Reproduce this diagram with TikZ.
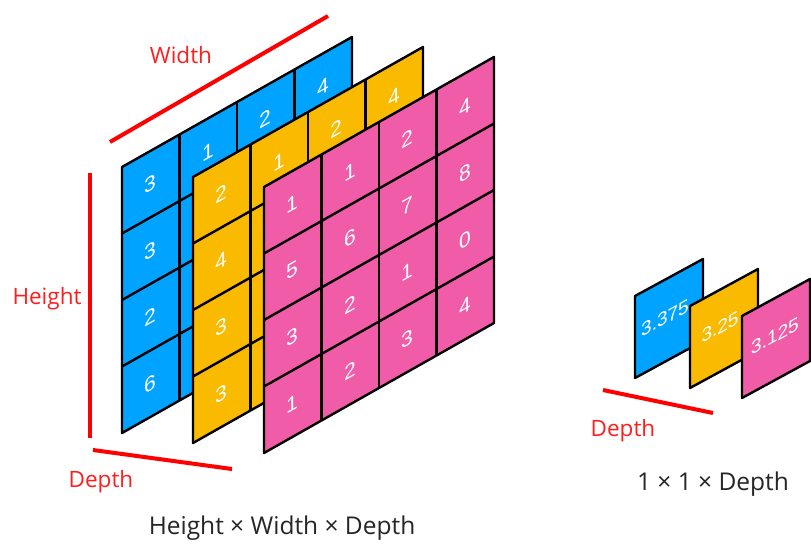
\documentclass[tikz,border=0pt]{standalone}
\usepackage{fontspec}
\setmainfont{Open Sans}
\newfontfamily\digitfont{Liberation Sans}
\definecolor{cblue}{RGB}{0,163,255}
\definecolor{cyellow}{RGB}{250,186,0}
\definecolor{cpink}{RGB}{240,92,168}
\definecolor{cred}{RGB}{255,0,0}
\definecolor{ctext}{RGB}{255,30,30}
\tikzset{
  gridline/.style={draw=black, line width=2.4pt, line join=round},
  redline/.style={draw=cred, line width=4pt},
  dig/.style={text=white, font=\digitfont\fontsize{21}{21}\selectfont, yslant=0.565, inner sep=0pt},
  sdig/.style={text=white, font=\digitfont\fontsize{19}{19}\selectfont, yslant=0.56, inner sep=0pt},
  redlabel/.style={text=ctext, font=\fontsize{22.5}{22.5}\selectfont, inner sep=0pt},
  blacklabel/.style={text=black!85, font=\fontsize{24.5}{24.5}\selectfont, inner sep=0pt},
}
% layer: #1 x, #2 y (bottom-left, image coords), #3 colour
\newcommand\mylayer[3]{%
  \begin{scope}[shift={(#1,#2)}]
    \filldraw[gridline, fill=#3] (0,0) -- (230,-130) -- (230,-396) -- (0,-266) -- cycle;
    \foreach \i in {1,2,3}{
      \draw[gridline] (\i*57.5,-\i*32.5) -- (\i*57.5,-\i*32.5-266);
      \draw[gridline] (0,-\i*66.5) -- (230,-130-\i*66.5);
    }
  \end{scope}}
% digit in cell: #1 x0, #2 y0, #3 row, #4 col, #5 text, #6 name
\newcommand\mycell[6]{%
  \node[dig] (#6) at ({#1+(#4-0.5)*57.5},{#2-(#4-0.5)*32.5-(4.5-#3)*66.5}) {#5};}
\begin{document}
\begin{tikzpicture}[x=1pt,y=-1pt]
\useasboundingbox (0,0) rectangle (811,544);
\fill[white] (0,0) rectangle (811,544);
% blue layer
\mylayer{122}{433}{cblue}
\mycell{122}{433}{1}{1}{3}{b11}
\mycell{122}{433}{1}{2}{1}{b12}
\mycell{122}{433}{1}{3}{2}{b13}
\mycell{122}{433}{1}{4}{4}{b14}
\mycell{122}{433}{2}{1}{3}{b21}
\mycell{122}{433}{3}{1}{2}{b31}
\mycell{122}{433}{4}{1}{6}{b41}
% yellow layer
\mylayer{193}{443}{cyellow}
\mycell{193}{443}{1}{1}{2}{y11}
\mycell{193}{443}{1}{2}{1}{y12}
\mycell{193}{443}{1}{3}{2}{y13}
\mycell{193}{443}{1}{4}{4}{y14}
\mycell{193}{443}{2}{1}{4}{y21}
\mycell{193}{443}{3}{1}{3}{y31}
\mycell{193}{443}{4}{1}{3}{y41}
% pink layer
\mylayer{264}{453}{cpink}
\mycell{264}{453}{1}{1}{1}{p11}
\mycell{264}{453}{1}{2}{1}{p12}
\mycell{264}{453}{1}{3}{2}{p13}
\mycell{264}{453}{1}{4}{4}{p14}
\mycell{264}{453}{2}{1}{5}{p21}
\mycell{264}{453}{2}{2}{6}{p22}
\mycell{264}{453}{2}{3}{7}{p23}
\mycell{264}{453}{2}{4}{8}{p24}
\mycell{264}{453}{3}{1}{3}{p31}
\mycell{264}{453}{3}{2}{2}{p32}
\mycell{264}{453}{3}{3}{1}{p33}
\mycell{264}{453}{3}{4}{0}{p34}
\mycell{264}{453}{4}{1}{1}{p41}
\mycell{264}{453}{4}{2}{2}{p42}
\mycell{264}{453}{4}{3}{3}{p43}
\mycell{264}{453}{4}{4}{4}{p44}
% small layers
\filldraw[gridline, fill=cblue] (635,378) -- (703,341) -- (703,259) -- (635,296) -- cycle;
\node[sdig] (s1) at (665,318) {3.375};
\filldraw[gridline, fill=cyellow] (690,388) -- (758,351) -- (758,269) -- (690,306) -- cycle;
\node[sdig] (s2) at (720,327) {3.25};
\filldraw[gridline, fill=cpink] (742,398) -- (810,361) -- (810,279) -- (742,316) -- cycle;
\node[sdig] (s3) at (775,336) {3.125};
% red guide lines
\coordinate (w1) at (110,142); \coordinate (w2) at (328,16);
\draw[redline] (w1) -- (w2);
\coordinate (h1) at (90,173); \coordinate (h2) at (90,438);
\draw[redline] (h1) -- (h2);
\coordinate (d1) at (93,450); \coordinate (d2) at (232,469);
\draw[redline] (d1) -- (d2);
\coordinate (e1) at (603,390); \coordinate (e2) at (713,413);
\draw[redline] (e1) -- (e2);
% labels
\node[redlabel] (lw) at (181,55) {Width};
\node[redlabel] (lh) at (47,299) {Height};
\node[redlabel] (ld) at (101,482) {Depth};
\node[redlabel] (le) at (623,431) {Depth};
\node[blacklabel] (lhw) at (282,528) {Height × Width × Depth};
\node[blacklabel] (l11) at (713,484) {1 × 1 × Depth};
\end{tikzpicture}
\end{document}
